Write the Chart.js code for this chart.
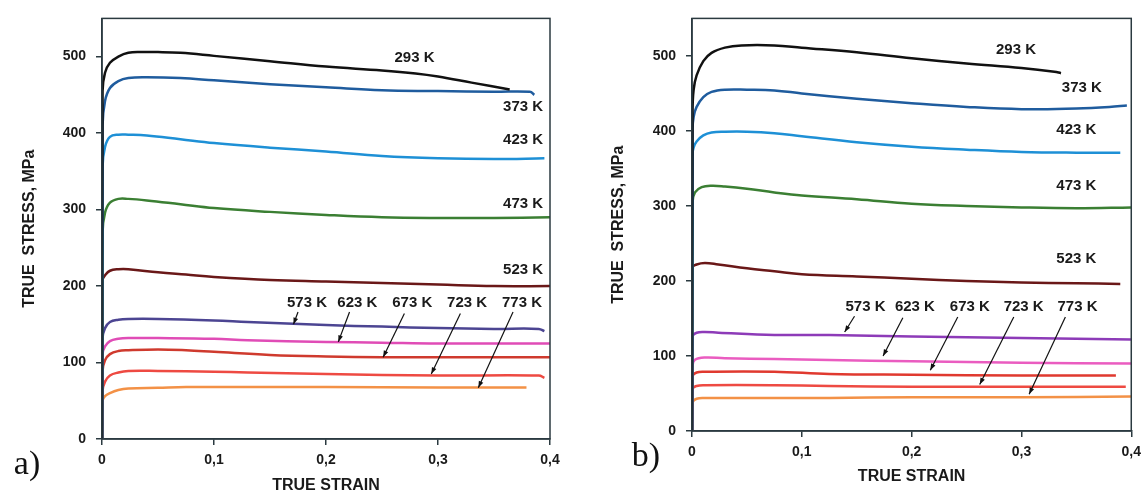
<!DOCTYPE html>
<html>
<head>
<meta charset="utf-8">
<script src="https://cdn.jsdelivr.net/npm/chart.js@4.4.1/dist/chart.umd.min.js"></script>
<style>
html, body { margin: 0; padding: 0; background: #fff; width: 1148px; height: 495px; overflow: hidden; }
#caja_a { position: absolute; left: 0; top: 0; width: 575px; height: 495px; }
#caja_b { position: absolute; left: 580px; top: 0; width: 568px; height: 495px; }
</style>
</head>
<body>
<div id="caja_a"><canvas id="g_a"></canvas></div>
<div id="caja_b"><canvas id="g_b"></canvas></div>
<script>
// temperaturas y colores
var temperaturas = ['293 K', '373 K', '423 K', '473 K', '523 K', '573 K', '623 K', '673 K', '723 K', '773 K'];
var colores_a = ['#111111', '#1f5c9e', '#1e90d6', '#3b7f33', '#6a1818', '#4c4592', '#e04cb6', '#cf3a2e', '#ee4a42', '#f39146'];
var colores_b = ['#111111', '#1f5c9e', '#1e90d6', '#3b7f33', '#6a1818', '#8d3bb8', '#ea5cc0', '#e0392f', '#ee4a42', '#f39146'];

// panel a) [deformacion, tension]
var a293 = [[0,0],[0.0005,455],[0.0027,479],[0.0071,492],[0.0146,500],[0.0235,505],[0.035,506],[0.05,506],[0.07,505],[0.1,501],[0.15,494],[0.2,487],[0.25,482],[0.28,478],[0.3,474],[0.33,466],[0.364,457]];
var a373 = [[0,0],[0.0005,410],[0.0027,442],[0.0071,459],[0.0146,468],[0.0235,472],[0.04,473],[0.07,472],[0.1,469],[0.15,464],[0.2,460],[0.25,456],[0.3,455],[0.35,454],[0.382,454],[0.386,450]];
var a423 = [[0,0],[0.0005,356],[0.0027,382],[0.0071,395],[0.0146,398],[0.0235,398],[0.04,397],[0.07,392],[0.1,387],[0.15,381],[0.2,376],[0.25,370],[0.3,367],[0.35,366],[0.395,367]];
var a473 = [[0,0],[0.0005,270],[0.0027,296],[0.0071,309],[0.0146,314],[0.0235,314],[0.04,312],[0.07,307],[0.1,302],[0.15,297],[0.2,293],[0.25,290],[0.3,289],[0.35,289],[0.4,290]];
var a523 = [[0,0],[0.0005,208],[0.0027,214],[0.0071,220],[0.0146,222],[0.0235,222],[0.05,218],[0.075,215],[0.1,212],[0.15,208],[0.2,206],[0.25,204],[0.3,202],[0.35,200],[0.4,200]];
var a573 = [[0,0],[0.0005,132],[0.0027,145],[0.0071,153],[0.0146,156],[0.0235,157],[0.05,157],[0.1,155],[0.13,153],[0.2,149],[0.25,147],[0.3,145],[0.35,144],[0.39,144],[0.395,141]];
var a623 = [[0,0],[0.0005,111],[0.0027,121],[0.0071,128],[0.0146,131],[0.0235,132],[0.05,132],[0.1,131],[0.13,129],[0.2,127],[0.25,126],[0.3,125],[0.4,125]];
var a673 = [[0,0],[0.0005,89],[0.0027,103],[0.0071,111],[0.0146,115],[0.0235,116],[0.05,117],[0.075,116],[0.1,114],[0.15,110],[0.2,108],[0.25,107],[0.3,107],[0.4,107]];
var a723 = [[0,0],[0.0005,63],[0.0027,75],[0.0071,83],[0.0146,87],[0.0235,89],[0.05,89],[0.1,88],[0.13,87],[0.2,85],[0.3,83],[0.39,83],[0.395,80]];
var a773 = [[0,0],[0.0005,50],[0.0027,56],[0.0071,60],[0.0146,64],[0.0235,66],[0.05,67],[0.075,68],[0.1,68],[0.2,68],[0.3,67.5],[0.379,67.5]];

// panel b)
var b293 = [[0,0],[0.0005,426],[0.0015,455],[0.0042,474],[0.0103,493],[0.0178,504],[0.03,511],[0.045,514],[0.075,514],[0.1,511],[0.15,505],[0.2,497],[0.25,490],[0.3,484],[0.33,479],[0.336,477]];
var b373 = [[0,0],[0.0005,402],[0.0015,419],[0.0042,432],[0.0103,445],[0.0178,452],[0.03,455],[0.05,455],[0.075,454],[0.1,450],[0.15,443],[0.2,437],[0.25,432],[0.3,429],[0.35,430],[0.38,432],[0.396,434]];
var b423 = [[0,0],[0.0005,369],[0.0015,378],[0.0042,386],[0.0103,394],[0.0178,398],[0.03,399],[0.05,399],[0.075,397],[0.1,393],[0.15,385],[0.2,379],[0.25,375],[0.3,372],[0.35,371],[0.39,371]];
var b473 = [[0,0],[0.0005,305],[0.0027,318],[0.0088,325],[0.0178,327],[0.03,326],[0.05,323],[0.075,318],[0.1,314],[0.15,309],[0.2,303],[0.25,300],[0.3,298],[0.35,297],[0.4,298]];
var b523 = [[0,0],[0.0005,218],[0.0042,222],[0.0118,224],[0.024,222],[0.05,217],[0.075,213],[0.1,209],[0.15,206],[0.2,203],[0.25,200],[0.3,198],[0.35,197],[0.39,196]];
var b573 = [[0,0],[0.0005,126],[0.0042,131],[0.0118,132],[0.024,131],[0.075,128],[0.125,128],[0.2,126],[0.3,124],[0.4,122]];
var b623 = [[0,0],[0.0005,87],[0.0027,95],[0.0118,98],[0.03,97],[0.075,96],[0.125,94.5],[0.2,93],[0.3,91],[0.4,90]];
var b673 = [[0,0],[0.0005,73],[0.0042,78],[0.0118,79],[0.075,79],[0.125,76],[0.2,75],[0.3,74],[0.386,74]];
var b723 = [[0,0],[0.0005,56],[0.0042,60],[0.0118,61],[0.075,61],[0.125,60],[0.2,59],[0.3,59],[0.395,59]];
var b773 = [[0,0],[0.0005,38],[0.0042,43],[0.0118,44],[0.075,44],[0.125,44],[0.2,45],[0.3,45],[0.4,46]];

// etiquetas [x, y] en unidades de datos
var etiquetas_a = [[0.279,499],[0.376,434],[0.376,391],[0.376,307],[0.376,221],[0.183,178],[0.228,178],[0.277,178],[0.326,178],[0.375,178]];
var etiquetas_b = [[0.295,508],[0.355,457],[0.350,402],[0.350,327],[0.350,229],[0.158,166],[0.203,166],[0.253,166],[0.302,166],[0.351,166]];

// flechas [x0, y0, x1, y1]
var flechas_a = [[0.175,166,0.171,150],[0.221,166,0.211,127],[0.270,164,0.251,107],[0.320,164,0.294,85],[0.367,166,0.336,67]];
var flechas_b = [[0.148,153,0.139,132],[0.192,151,0.174,100],[0.242,152,0.217,81],[0.293,152,0.262,62],[0.340,152,0.307,49]];

var fuente = '"Liberation Sans", Arial, sans-serif';
var oscuro = '#2b3a40';

function plugin_marco(letra, lx, ly, etiquetas, flechas) {
    return {
        id: 'marco',
        afterDatasetsDraw: function (chart) {
            var ctx = chart.ctx, a = chart.chartArea;
            var sx = chart.scales.x, sy = chart.scales.y;
            ctx.save();
            ctx.strokeStyle = oscuro;
            ctx.lineWidth = 1.5;
            ctx.strokeRect(a.left, a.top, a.right - a.left, a.bottom - a.top);

            ctx.fillStyle = '#1a1a1a';
            ctx.font = 'bold 15px ' + fuente;
            ctx.textAlign = 'center';
            ctx.textBaseline = 'middle';
            for (let i = 0; i < etiquetas.length; i++) {
                ctx.fillText(temperaturas[i], sx.getPixelForValue(etiquetas[i][0]), sy.getPixelForValue(etiquetas[i][1]));
            }

            ctx.strokeStyle = '#111';
            ctx.lineWidth = 1.2;
            for (let i = 0; i < flechas.length; i++) {
                var x0 = sx.getPixelForValue(flechas[i][0]), y0 = sy.getPixelForValue(flechas[i][1]);
                var x1 = sx.getPixelForValue(flechas[i][2]), y1 = sy.getPixelForValue(flechas[i][3]);
                var ang = Math.atan2(y1 - y0, x1 - x0);
                ctx.beginPath();
                ctx.moveTo(x0, y0);
                ctx.lineTo(x1, y1);
                ctx.stroke();
                ctx.beginPath();
                ctx.moveTo(x1, y1);
                ctx.lineTo(x1 - 7 * Math.cos(ang - 0.35), y1 - 7 * Math.sin(ang - 0.35));
                ctx.lineTo(x1 - 7 * Math.cos(ang + 0.35), y1 - 7 * Math.sin(ang + 0.35));
                ctx.closePath();
                ctx.fillStyle = '#111';
                ctx.fill();
            }

            ctx.fillStyle = '#111';
            ctx.font = '34px "Liberation Serif", "DejaVu Serif", serif';
            ctx.textAlign = 'center';
            ctx.fillText(letra, lx, ly);
            ctx.restore();
        }
    };
}

function grafica(id, series, colores, alto_x, pad, tituloY, tituloX, letra, lx, ly, etiquetas, flechas, anchoY) {
    var datasets = [];
    for (let i = 0; i < series.length; i++) {
        datasets.push({
            label: temperaturas[i],
            data: series[i].map(function (p) { return { x: p[0], y: p[1] }; }),
            borderColor: colores[i],
            borderWidth: 2.5,
            pointRadius: 0,
            fill: false,
            tension: 0.4
        });
    }
    new Chart(document.getElementById(id), {
        type: 'line',
        data: { datasets: datasets },
        plugins: [plugin_marco(letra, lx, ly, etiquetas, flechas)],
        options: {
            responsive: true,
            maintainAspectRatio: false,
            animation: false,
            layout: { padding: pad },
            plugins: { legend: { display: false }, tooltip: { enabled: false } },
            scales: {
                x: {
                    type: 'linear', min: 0, max: 0.4,
                    afterFit: function (s) { s.height = alto_x; },
                    ticks: {
                        stepSize: 0.1, padding: 7, color: '#1a1a1a',
                        font: { family: fuente, size: 14, weight: 'bold' },
                        callback: function (v) { return v === 0 ? '0' : (Math.round(v * 10) / 10).toFixed(1).replace('.', ','); }
                    },
                    grid: { drawOnChartArea: false, tickLength: 6, color: oscuro, lineWidth: 1.5 },
                    border: { color: oscuro, width: 1.5 },
                    title: { display: true, text: 'TRUE STRAIN', color: '#1a1a1a', font: { family: fuente, size: 16, weight: 'bold' }, padding: tituloX }
                },
                y: {
                    min: 0, max: 550,
                    afterFit: function (s) { s.width = anchoY; },
                    afterBuildTicks: function (s) { s.ticks = s.ticks.filter(function (t) { return t.value % 100 === 0; }); },
                    ticks: {
                        stepSize: 100, padding: 10, color: '#1a1a1a',
                        font: { family: fuente, size: 14, weight: 'bold' }
                    },
                    grid: { drawOnChartArea: false, tickLength: 6, color: oscuro, lineWidth: 1.5 },
                    border: { color: oscuro, width: 1.5 },
                    title: { display: true, text: 'TRUE  STRESS, MPa', color: '#1a1a1a', font: { family: fuente, size: 16, weight: 'bold' }, padding: tituloY }
                }
            }
        }
    });
}

grafica('g_a', [a293, a373, a423, a473, a523, a573, a623, a673, a723, a773], colores_a, 56,
    { left: 0, top: 13, right: 25, bottom: 0 }, { top: 20, bottom: 0 }, { top: 0, bottom: 0 },
    'a)', 27, 465, etiquetas_a, flechas_a, 102);
grafica('g_b', [b293, b373, b423, b473, b523, b573, b623, b673, b723, b773], colores_b, 64,
    { left: 0, top: 12, right: 15, bottom: 0 }, { top: 29, bottom: 0 }, { top: 0, bottom: 9 },
    'b)', 66, 457, etiquetas_b, flechas_b, 112);
</script>
</body>
</html>
